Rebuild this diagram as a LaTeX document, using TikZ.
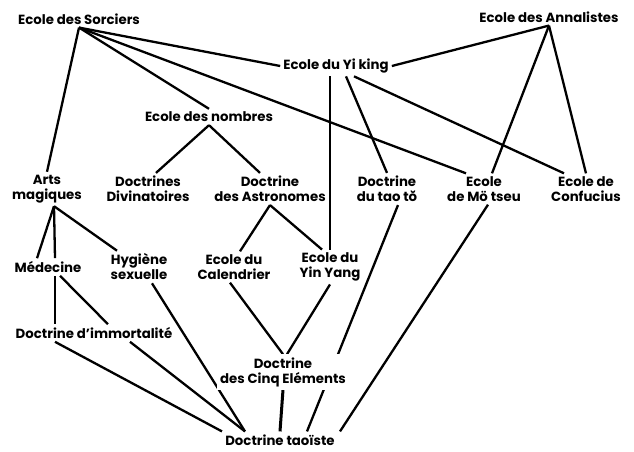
\documentclass[tikz,border=0pt]{standalone}
\usepackage{fontspec}
\setmainfont{Poppins}
\usetikzlibrary{backgrounds}

\begin{document}
\begin{tikzpicture}[x=1pt,y=-1pt,
    school/.style={align=center, inner sep=3pt, font=\bfseries\fontsize{13.3}{15}\selectfont},
    link/.style={black, line width=2.3pt}]
    \useasboundingbox (0,0) rectangle (634,452);
    \node[school] (sorciers) at (79,19) {Ecole des Sorciers};
    \node[school] (annalistes) at (549,17) {Ecole des Annalistes};
    \node[school] (yiking) at (336,66) {Ecole du Yi king};
    \node[school] (nombres) at (209,117) {Ecole des nombres};
    \node[school] (arts) at (47,189) {Arts\\magiques};
    \node[school] (divinatoires) at (148,189) {Doctrines\\Divinatoires};
    \node[school] (astronomes) at (270,189) {Doctrine\\des Astronomes};
    \node[school] (taote) at (387,189) {Doctrine\\du tao tŏ};
    \node[school] (motseu) at (484,189) {Ecole\\de Mö tseu};
    \node[school] (confucius) at (586,189) {Ecole de\\Confucius};
    \node[school] (medecine) at (48,267) {Médecine};
    \node[school] (hygiene) at (139,267) {Hygiène\\sexuelle};
    \node[school] (calendrier) at (234,267) {Ecole du\\Calendrier};
    \node[school] (yinyang) at (330,267) {Ecole du\\Yin Yang};
    \node[school] (immortalite) at (94,333) {Doctrine d'immortalité};
    \node[school, fill=white] (cinq) at (283,372) {Doctrine\\des Cinq Eléments};
    \node[school] (taoiste) at (280,440) {Doctrine taoïste};

    \begin{scope}[on background layer]
    \draw[link] (sorciers.south) -- (arts.north);
    \draw[link] (sorciers.south) -- (yiking.west);
    \draw[link] (sorciers.south) -- ([xshift=-18pt]motseu.north);
    \draw[link] (sorciers.south) -- (nombres.north);
    \draw[link] (yiking.east) -- (annalistes.south);
    \draw[link] (annalistes.south) -- ([xshift=8pt]motseu.north);
    \draw[link] (annalistes.south) -- (confucius.north);
    \draw[link] (yinyang.north |- yiking.south) -- (yinyang.north);
    \draw[link] ([xshift=10pt]yiking.south) -- (taote.north);
    \draw[link] ([xshift=18pt]yiking.south) -- ([xshift=-22pt]confucius.north);
    \draw[link] (nombres.south) -- ([xshift=8pt]divinatoires.north);
    \draw[link] (nombres.south) -- ([xshift=-10pt]astronomes.north);
    \draw[link] (astronomes.south) -- ([xshift=6pt]calendrier.north);
    \draw[link] (astronomes.south) -- ([xshift=-8pt]yinyang.north);
    \draw[link] ([xshift=7pt]arts.south) -- ([xshift=-11pt]medecine.north);
    \draw[link] ([xshift=7pt]arts.south) -- ([xshift=7pt]medecine.north);
    \draw[link] ([xshift=7pt]arts.south) -- ([xshift=-22pt]hygiene.north);
    \draw[link] ([xshift=7pt]medecine.south) -- ([xshift=7pt]medecine.south |- immortalite.north);
    \draw[link] ([xshift=12pt]medecine.south) -- ([xshift=14pt]immortalite.north);
    \draw[link] ([xshift=-39pt]immortalite.south) -- ([xshift=-58pt]taoiste.north);
    \draw[link] ([xshift=36pt]immortalite.south) -- ([xshift=-35pt]taoiste.north);
    \draw[link] ([xshift=13pt]hygiene.south) -- ([xshift=-35pt]taoiste.north);
    \draw[link] ([xshift=-4pt]calendrier.south) -- (cinq.north);
    \draw[link] (yinyang.south) -- ([xshift=4pt]cinq.north);
    \draw[link, line width=3pt] (cinq.south) -- (taoiste.north);
    \draw[link] ([xshift=11pt]taote.south) -- ([xshift=27pt]taoiste.north);
    \draw[link] ([xshift=4pt]motseu.south) -- ([xshift=60pt]taoiste.north);
    \end{scope}
\end{tikzpicture}
\end{document}
